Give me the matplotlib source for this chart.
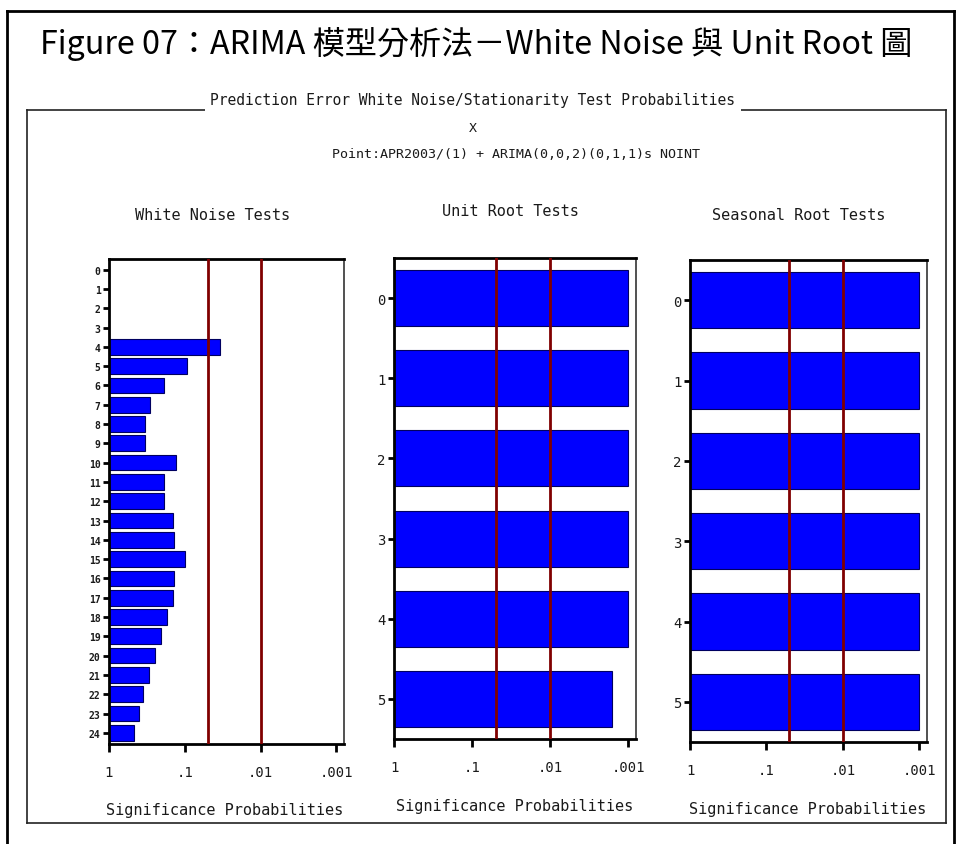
import numpy as np
import matplotlib
matplotlib.use("Agg")
import matplotlib.pyplot as plt
from matplotlib.lines import Line2D

# ---- data -------------------------------------------------------------
wn_lags = list(range(25))
# white-noise test probabilities by lag (lags 0-3 have no test)
wn_prob = [np.nan, np.nan, np.nan, np.nan,
           0.034, 0.093, 0.186, 0.288, 0.331, 0.331, 0.129, 0.186, 0.186,
           0.141, 0.138, 0.100, 0.138, 0.141, 0.170, 0.204, 0.251, 0.295,
           0.355, 0.407, 0.468]
ur_lags = list(range(6))
ur_prob = [0.001, 0.001, 0.001, 0.001, 0.001, 0.0016]
sr_lags = list(range(6))
sr_prob = [0.001, 0.001, 0.001, 0.001, 0.001, 0.001]
sig_levels = [0.05, 0.01]
x_tick_probs = [1, 0.1, 0.01, 0.001]
x_tick_labels = ["1", ".1", ".01", ".001"]

title = "Figure 07：ARIMA 模型分析法－White Noise 與 Unit Root 圖"
header = "Prediction Error White Noise/Stationarity Test Probabilities"
var_name = "X"
model_desc = "Point:APR2003/(1) + ARIMA(0,0,2)(0,1,1)s NOINT"
panel_titles = ["White Noise Tests", "Unit Root Tests", "Seasonal Root Tests"]
x_label = "Significance Probabilities"

# ---- figure -----------------------------------------------------------
W, H = 957, 845
fig = plt.figure(figsize=(W / 100, H / 100), dpi=100, facecolor="white")
MONO = "DejaVu Sans Mono"


def fx(x):
    return x / W


def fy(y):
    return 1 - y / H


def hline(x0, x1, y, lw=1.5, color="black"):
    fig.add_artist(Line2D([fx(x0), fx(x1)], [fy(y), fy(y)],
                          transform=fig.transFigure, color=color, lw=lw))


def vline(x, y0, y1, lw=1.5, color="black"):
    fig.add_artist(Line2D([fx(x), fx(x)], [fy(y0), fy(y1)],
                          transform=fig.transFigure, color=color, lw=lw))


# outer border
vline(7, 12, 845, lw=2.0)
hline(7, 954, 12, lw=2.0)
vline(954, 12, 845, lw=2.0)

# inner frame
hline(27, 946, 111, lw=1.2, color="#222222")
hline(27, 946, 824, lw=1.2, color="#222222")
vline(27, 111, 824, lw=1.2, color="#222222")
vline(946, 111, 824, lw=1.2, color="#222222")

# title, sized to span its row
t = fig.text(fx(476), fy(44), title, ha="center", va="center",
             fontsize=22, family=["Noto Sans CJK TC", "DejaVu Sans"],
             color="black")
renderer = fig.canvas.get_renderer()
w = t.get_window_extent(renderer).width
t.set_fontsize(22 * 873 / w)

fig.text(fx(473), fy(101), header, ha="center", va="center", fontsize=10.5,
         family=MONO, color="#1a1a1a",
         bbox=dict(facecolor="white", edgecolor="none", pad=4))
fig.text(fx(473), fy(128), var_name, ha="center", va="center", fontsize=9.5,
         family=MONO, color="#1a1a1a")
fig.text(fx(516), fy(155), model_desc, ha="center", va="center", fontsize=9.6,
         family=MONO, color="#1a1a1a")

# ---- panels -----------------------------------------------------------
panels = [
    dict(box=(109, 260, 344, 745), lags=wn_lags, prob=wn_prob,
         ylim=(24.58, -0.55), height=0.81, ylab_size=7, ylab_bold=True,
         title_xy=(213, 216), xlab_xy=(225, 811), title=panel_titles[0]),
    dict(box=(394, 259, 636, 740), lags=ur_lags, prob=ur_prob,
         ylim=(5.5, -0.5), height=0.70, ylab_size=10, ylab_bold=False,
         title_xy=(510, 211), xlab_xy=(515, 807), title=panel_titles[1]),
    dict(box=(690, 261, 927, 743), lags=sr_lags, prob=sr_prob,
         ylim=(5.5, -0.5), height=0.70, ylab_size=10, ylab_bold=False,
         title_xy=(799, 215), xlab_xy=(808, 810), title=panel_titles[2]),
]

for p in panels:
    x0, y0, x1, y1 = p["box"]
    ax = fig.add_axes([fx(x0), fy(y1), (x1 - x0) / W, (y1 - y0) / H])
    vals = -np.log10(np.array(p["prob"], dtype=float))
    ax.barh(p["lags"], np.nan_to_num(vals), height=p["height"],
            color="#0000FF", edgecolor="#000060", linewidth=0.8, zorder=2)
    for s in sig_levels:
        ax.axvline(-np.log10(s), color="#800000", lw=2.0, zorder=3)
    ax.set_xlim(0, 3.1)
    ax.set_ylim(*p["ylim"])
    ax.set_xticks(-np.log10(x_tick_probs))
    ax.set_xticklabels(x_tick_labels, family=MONO, fontsize=10)
    ax.set_yticks(p["lags"])
    ax.set_yticklabels([str(v) for v in p["lags"]], family=MONO,
                       fontsize=p["ylab_size"],
                       fontweight="bold" if p["ylab_bold"] else "normal")
    ax.tick_params(axis="x", direction="out", length=6, width=2, pad=9,
                   colors="black", labelcolor="#1a1a1a")
    ax.tick_params(axis="y", direction="out", length=4, width=2, pad=2,
                   colors="black", labelcolor="#1a1a1a")
    for side in ("left", "top", "bottom"):
        ax.spines[side].set_linewidth(2.0)
        ax.spines[side].set_color("black")
    ax.spines["right"].set_linewidth(1.2)
    ax.spines["right"].set_color("#333333")
    ax.set_facecolor("white")

    tx, ty = p["title_xy"]
    fig.text(fx(tx), fy(ty), p["title"], ha="center", va="center",
             fontsize=11, family=MONO, color="#1a1a1a")
    lx, ly = p["xlab_xy"]
    fig.text(fx(lx), fy(ly), x_label, ha="center", va="center",
             fontsize=11, family=MONO, color="#1a1a1a")

fig.savefig("out.png", dpi=100, facecolor="white")
